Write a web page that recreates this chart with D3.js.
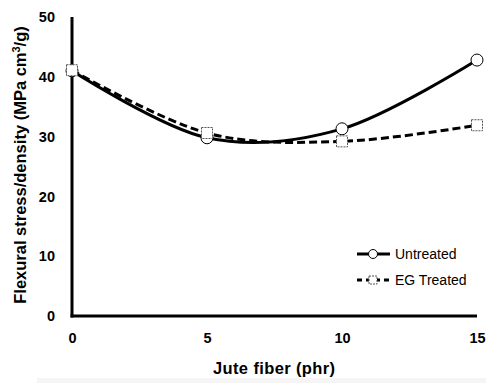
<!DOCTYPE html>
<html><head><meta charset="utf-8">
<script src="https://cdn.jsdelivr.net/npm/d3@7"></script>
<style>body{margin:0;background:#fff}svg{display:block;font-family:"Liberation Sans",Arial,sans-serif}</style>
</head><body><svg id="c" width="486" height="383"></svg>
<script>
const xValues = [0, 5, 10, 15];
const untreated = [41.0, 29.8, 31.3, 42.8];
const egTreated = [41.1, 30.6, 29.2, 31.9];
const xTicks = [0, 5, 10, 15];
const yTicks = [0, 10, 20, 30, 40, 50];
const seriesNames = ["Untreated", "EG Treated"];

const svg = d3.select("#c");
svg.append("rect").attr("x",37).attr("y",378).attr("width",449).attr("height",5).attr("fill","#f5f5f5");
const x = d3.scaleLinear().domain([0,15]).range([72,477]);
const y = d3.scaleLinear().domain([0,50]).range([316,17]);

// axes
const xa = svg.append("g").attr("transform","translate(0,316)")
  .call(d3.axisBottom(x).tickValues(xTicks).tickSize(0).tickPadding(17).tickFormat(d3.format("d")));
xa.select(".domain").attr("stroke","#000").attr("stroke-width",3).attr("d","M70.5,0H477");
xa.selectAll("text").attr("font-size",14.5).attr("font-weight","bold").attr("fill","#000").attr("font-family","Liberation Sans, Arial, sans-serif");
const ya = svg.append("g").attr("transform","translate(72,0)")
  .call(d3.axisLeft(y).tickValues(yTicks).tickSize(0).tickPadding(17).tickFormat(d3.format("d")));
ya.select(".domain").attr("stroke","#000").attr("stroke-width",3).attr("d","M0,17V317.5");
ya.selectAll("text").attr("font-size",14.5).attr("font-weight","bold").attr("fill","#000").attr("font-family","Liberation Sans, Arial, sans-serif");

svg.append("text").attr("x",274).attr("y",374).attr("text-anchor","middle")
  .attr("font-size",16.5).attr("font-weight","bold").attr("textLength",122).text("Jute fiber (phr)");
const yt = svg.append("text").attr("transform","translate(26,165) rotate(-90)").attr("text-anchor","middle")
  .attr("font-size",16.5).attr("font-weight","bold");
yt.append("tspan").text("Flexural stress/density (MPa cm");
yt.append("tspan").attr("font-size",11).attr("dy",-6).text("3");
yt.append("tspan").attr("dy",6).text("/g)");

const line = d3.line().x(d=>x(d[0])).y(d=>y(d[1])).curve(d3.curveCatmullRom.alpha(0));
const dU = xValues.map((v,i)=>[v,untreated[i]]);
const dE = xValues.map((v,i)=>[v,egTreated[i]]);

svg.append("path").attr("d",line(dU)).attr("fill","none").attr("stroke","#000").attr("stroke-width",3);
svg.append("path").attr("d",line(dE)).attr("fill","none").attr("stroke","#000").attr("stroke-width",3).attr("stroke-dasharray","8,4");

svg.selectAll(".cu").data(dU).enter().append("circle")
  .attr("cx",d=>x(d[0])).attr("cy",d=>y(d[1])).attr("r",6)
  .attr("fill","#fff").attr("stroke","#000").attr("stroke-width",1);
svg.selectAll(".sq").data(dE).enter().append("rect")
  .attr("x",d=>x(d[0])-5.5).attr("y",d=>y(d[1])-5.5).attr("width",11).attr("height",11)
  .attr("fill","#fff").attr("stroke","#555").attr("stroke-width",1).attr("stroke-dasharray","2,1");

// legend
const lg = svg.append("g");
lg.append("line").attr("x1",357).attr("x2",390).attr("y1",254).attr("y2",254).attr("stroke","#000").attr("stroke-width",3);
lg.append("circle").attr("cx",373).attr("cy",254).attr("r",4.5).attr("fill","#fff").attr("stroke","#000").attr("stroke-width",1);
lg.append("text").attr("x",395).attr("y",259).attr("font-size",14).text(seriesNames[0]);
lg.append("line").attr("x1",357).attr("x2",390).attr("y1",280).attr("y2",280).attr("stroke","#000").attr("stroke-width",3).attr("stroke-dasharray","5,4");
lg.append("rect").attr("x",369).attr("y",276).attr("width",8).attr("height",8).attr("fill","#fff").attr("stroke","#555").attr("stroke-width",1).attr("stroke-dasharray","2,1");
lg.append("text").attr("x",395).attr("y",285).attr("font-size",14).text(seriesNames[1]);
</script></body></html>
